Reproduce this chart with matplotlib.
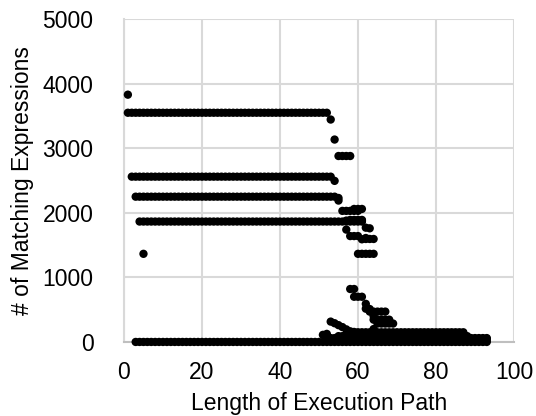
import numpy as np
import matplotlib
matplotlib.use('Agg')
import matplotlib.pyplot as plt

# Horizontal runs of dots: (first x, last x, # of matching expressions)
run_start = [1, 2, 3, 4, 3, 55, 56, 57, 58, 58, 60, 62,
             52, 53, 55, 57, 60, 87, 59, 63, 64, 65, 59, 58,
             52, 54, 56, 58]
run_end = [52, 53, 54, 61, 93, 58, 60, 61, 60, 59, 64, 64,
           92, 93, 88, 87, 87, 93, 61, 67, 68, 69, 61, 61,
           93, 90, 88, 87]
run_value = [3550, 2560, 2250, 1865, 0, 2880, 2030, 1880, 1640, 820, 1365, 1595,
             30, 60, 90, 120, 150, 50, 700, 470, 345, 285, 2060, 1890,
             15, 45, 75, 105]

# Single dots
dot_x = [1, 5, 53, 54, 54, 55, 55, 57, 62, 63, 62, 62, 63, 64, 64,
         52, 53, 54, 55, 56, 57, 58, 59, 52, 51, 61, 62]
dot_y = [3830, 1365, 3445, 3135, 2495, 2230, 2190, 1740, 1770, 1760, 590, 515, 510, 400, 200,
         105, 315, 290, 260, 230, 195, 165, 155, 125, 110, 1590, 1610]

xs, ys = [], []
for a, b, v in zip(run_start, run_end, run_value):
    for x in range(a, b + 1):
        xs.append(x)
        ys.append(v)
xs += dot_x
ys += dot_y

plt.rcParams['font.family'] = ['Liberation Sans', 'DejaVu Sans']

fig = plt.figure(figsize=(5.36, 4.16), dpi=100)
ax = fig.add_axes([0.2313, 0.178, 0.7277, 0.776])
ax.scatter(xs, ys, s=36, color='black', edgecolors='none', zorder=3, clip_on=False)

ax.set_xlim(0, 100)
ax.set_ylim(0, 5000)
ax.set_xticks([0, 20, 40, 60, 80, 100])
ax.set_yticks([0, 1000, 2000, 3000, 4000, 5000])
ax.grid(True, color='#d9d9d9', linewidth=1.5, zorder=0)
ax.set_axisbelow(True)
ax.tick_params(length=0, labelsize=16.5)
ax.tick_params(axis='y', pad=22)
ax.tick_params(axis='x', pad=14)
for side in ['top', 'right']:
    ax.spines[side].set_visible(False)
ax.spines['left'].set_color('#d9d9d9')
ax.spines['left'].set_linewidth(1.5)
ax.spines['bottom'].set_color('#bfbfbf')
ax.spines['bottom'].set_linewidth(1.5)

ax.set_xlabel('Length of Execution Path', fontsize=16.5, va='baseline')
ax.xaxis.set_label_coords(0.5, -0.212)
ax.set_ylabel('# of Matching Expressions', fontsize=16.5, labelpad=6)

fig.savefig('out.png', dpi=100)
